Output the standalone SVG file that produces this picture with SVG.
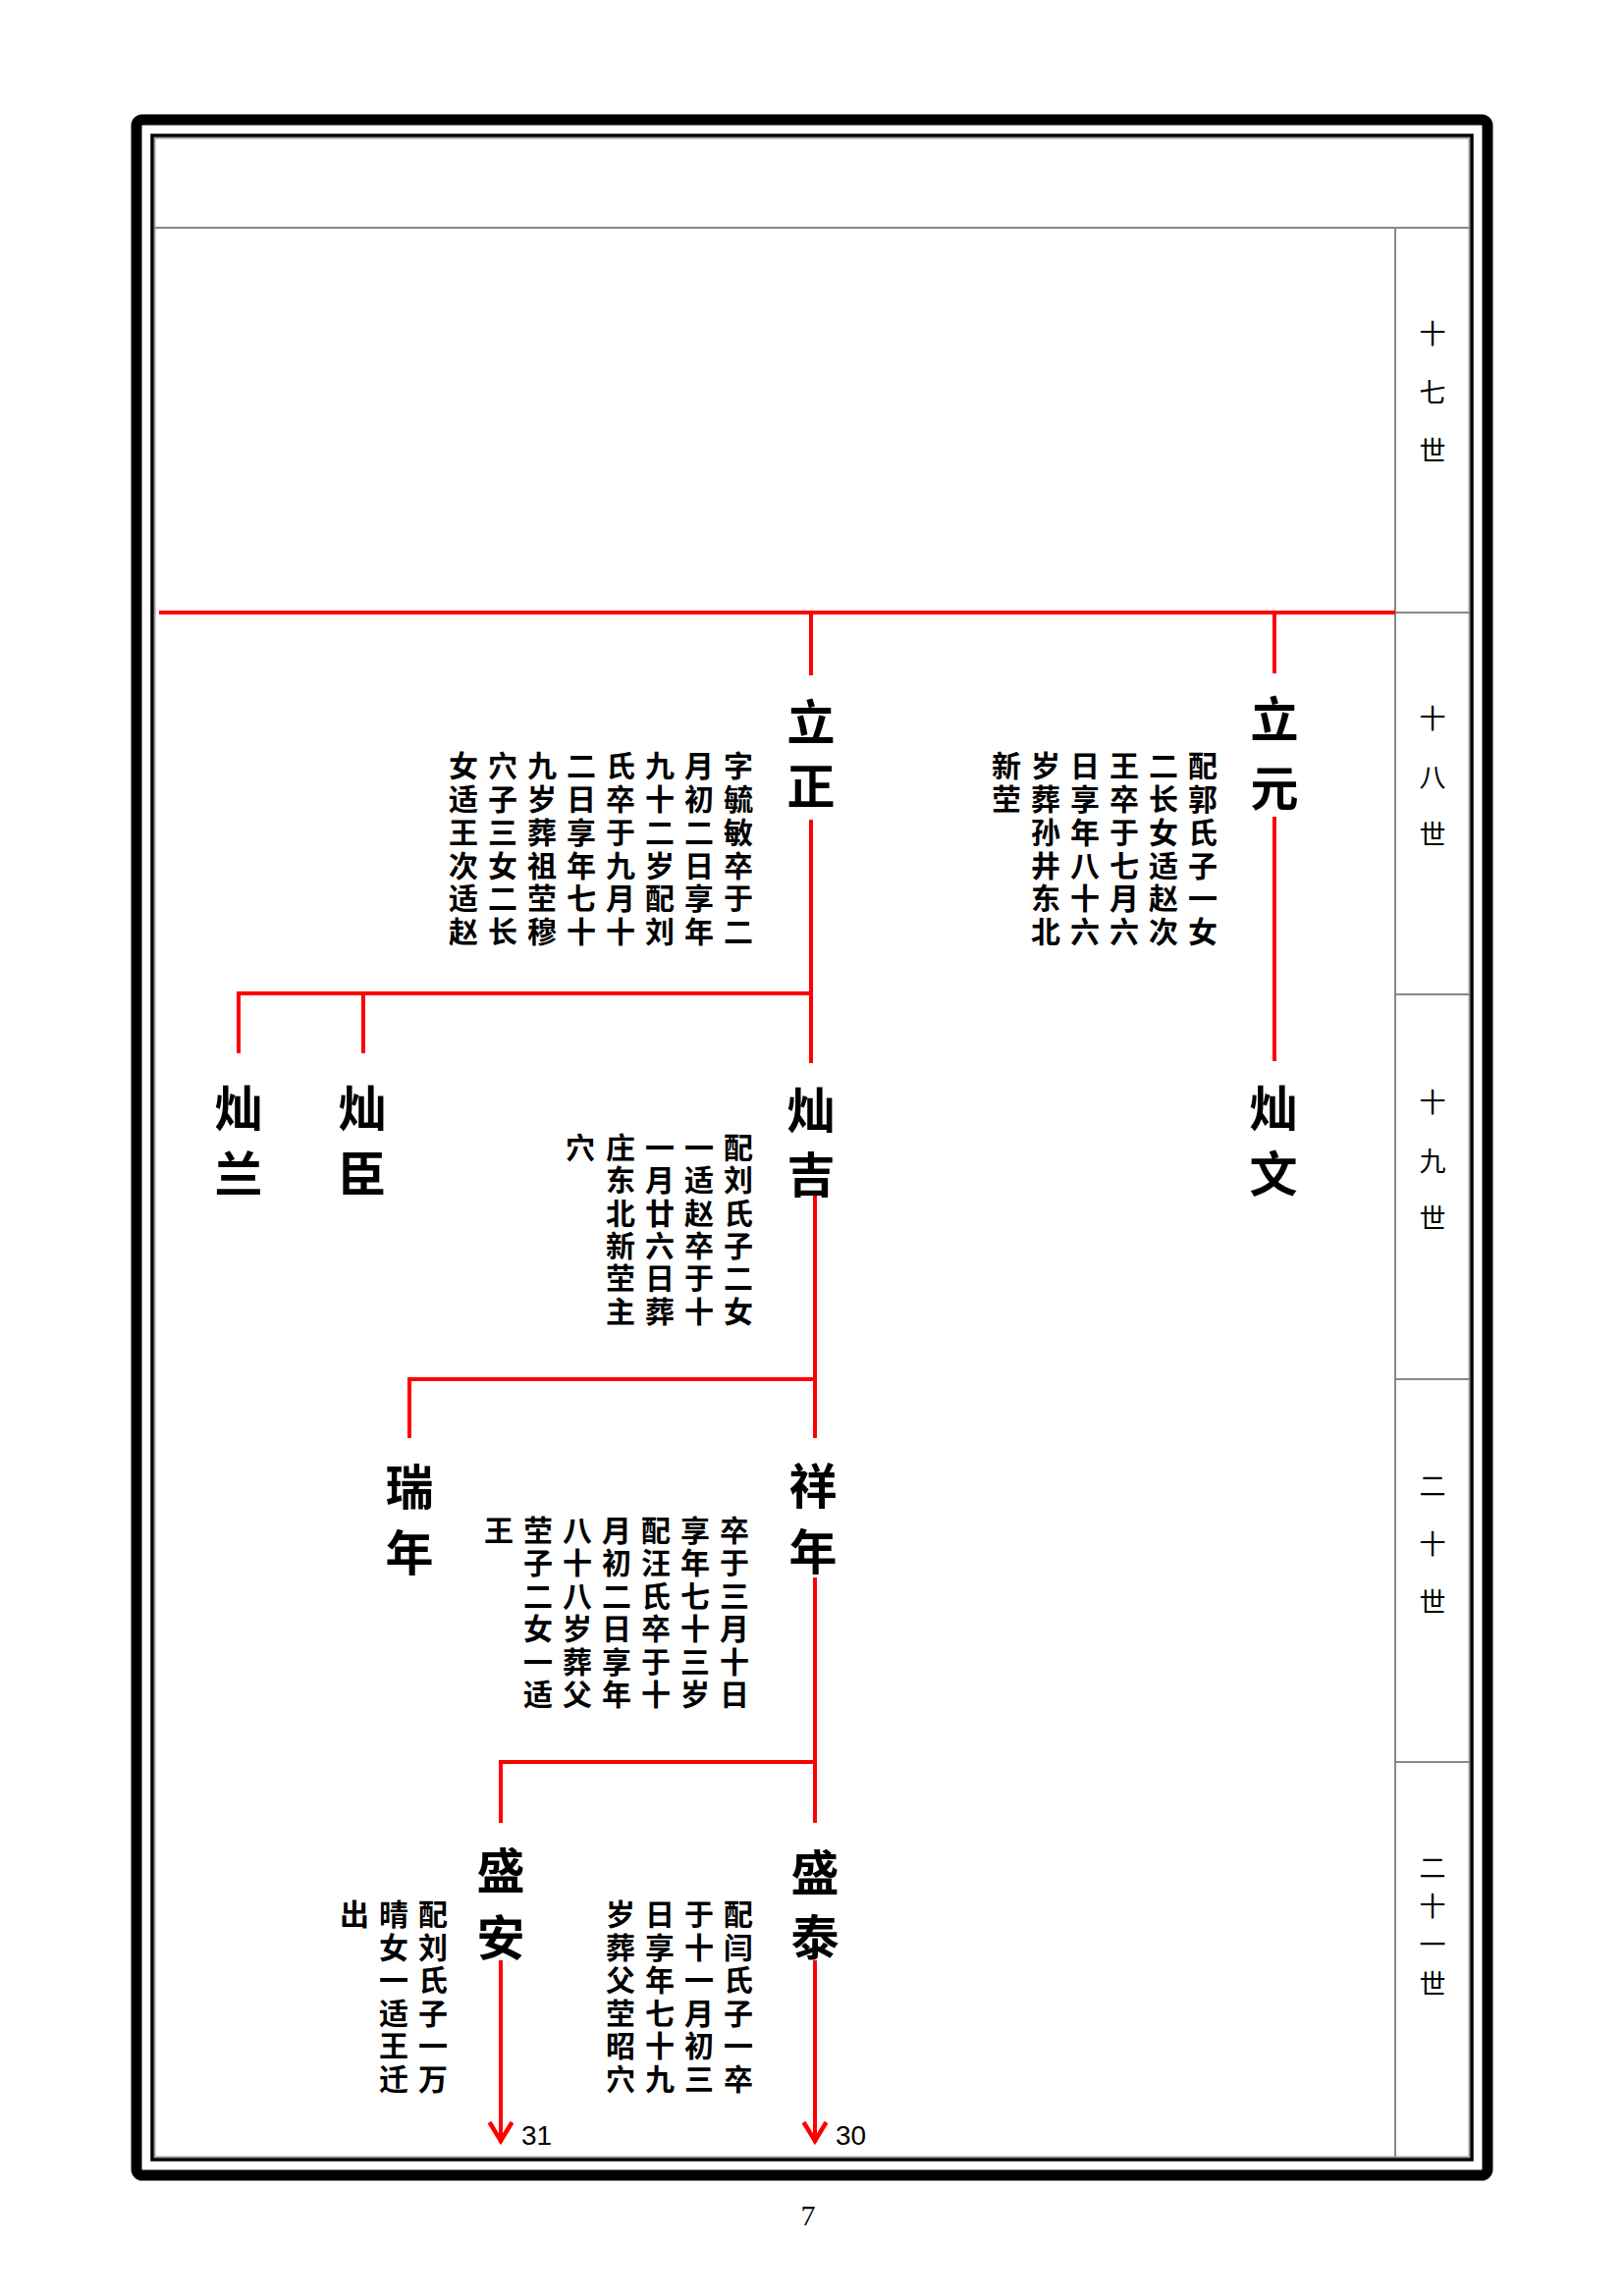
<svg xmlns="http://www.w3.org/2000/svg" width="1654" height="2339" viewBox="0 0 1654 2339">
<style>
.bg{fill:#fff}
.thick{fill:none;stroke:#000;stroke-width:11}
.thin{fill:none;stroke:#000;stroke-width:3.5}
.grid{fill:none;stroke:#888;stroke-width:2}
.conn{fill:none;stroke:#f00;stroke-width:4;stroke-linejoin:miter}
.name{font-family:"Noto Sans CJK SC","Noto Sans CJK TC",sans-serif;font-size:49px;font-weight:700;fill:#000;text-anchor:middle;dominant-baseline:central}
.note{font-family:"Noto Sans CJK SC","Noto Sans CJK TC",sans-serif;font-size:30px;font-weight:700;fill:#000;text-anchor:middle;dominant-baseline:central}
.gen{font-family:"Noto Sans CJK SC","Noto Sans CJK TC",sans-serif;font-size:27px;font-weight:400;fill:#000;text-anchor:middle;dominant-baseline:central}
.ref{font-family:"Liberation Sans",Arial,sans-serif;font-size:28px;fill:#000}
.page{font-family:"Liberation Serif","Times New Roman",serif;font-size:30px;fill:#000;text-anchor:middle}
</style>
<defs>
<marker id="arrow" markerUnits="userSpaceOnUse" viewBox="-26 -15 30 30" refX="0" refY="0" markerWidth="30" markerHeight="30" orient="auto" overflow="visible">
<path d="M-21,-11.5 L-2,0 L-21,11.5" fill="none" stroke="#f00" stroke-width="4.5" stroke-linejoin="miter"/>
</marker>
</defs>
<rect class="bg" x="0" y="0" width="1654" height="2339"/>
<g id="frame">
<rect class="thick" x="139" y="122" width="1376" height="2094" rx="6"/>
<rect class="thin" x="155" y="138" width="1344" height="2062"/>
<rect fill="none" stroke="#888" stroke-width="1.2" x="157.8" y="140.8" width="1338.4" height="2056.4"/>
<path class="grid" d="M157,232 H1497 M1421,232 V2198 M1421,624 H1497 M1421,1013 H1497 M1421,1405 H1497 M1421,1795 H1497"/>
</g>
<g id="generations">
<text class="gen" x="1459 1459 1459" y="338 398 457">十七世</text>
<text class="gen" x="1459 1459 1459" y="730 790 848">十八世</text>
<text class="gen" x="1459 1459 1459" y="1121 1181 1239">十九世</text>
<text class="gen" x="1459 1459 1459" y="1512 1571 1630">二十世</text>
<text class="gen" x="1459 1459 1459 1459" y="1901 1940 1979 2019">二十一世</text>
</g>
<g id="connectors">
<path class="conn" d="M162,624 H1421"/>
<path class="conn" d="M826,624 V688 M826,835 V1083"/>
<path class="conn" d="M1298,624 V686 M1298,832 V1081"/>
<path class="conn" d="M243,1073 V1012 H826"/>
<path class="conn" d="M370,1012 V1073"/>
<path class="conn" d="M830,1217 V1465"/>
<path class="conn" d="M417,1465 V1405 H830"/>
<path class="conn" d="M830,1607 V1857"/>
<path class="conn" d="M510,1857 V1795 H830"/>
<path class="conn" d="M510,1997 V2183" marker-end="url(#arrow)"/>
<path class="conn" d="M830,1997 V2183" marker-end="url(#arrow)"/>
</g>
<g id="node-lizheng">
<text class="name" x="826 826" y="732 797">立正</text>
<text class="note" x="752 752 752 752 752 752" y="778 812 846 880 913 947">字毓敏卒于二</text>
<text class="note" x="712 712 712 712 712 712" y="778 812 846 880 913 947">月初二日享年</text>
<text class="note" x="672 672 672 672 672 672" y="778 812 846 880 913 947">九十二岁配刘</text>
<text class="note" x="632 632 632 632 632 632" y="778 812 846 880 913 947">氏卒于九月十</text>
<text class="note" x="592 592 592 592 592 592" y="778 812 846 880 913 947">二日享年七十</text>
<text class="note" x="552 552 552 552 552 552" y="778 812 846 880 913 947">九岁葬祖茔穆</text>
<text class="note" x="512 512 512 512 512 512" y="778 812 846 880 913 947">穴子三女二长</text>
<text class="note" x="472 472 472 472 472 472" y="778 812 846 880 913 947">女适王次适赵</text>
</g>
<g id="node-liyuan">
<text class="name" x="1298 1298" y="729 799">立元</text>
<text class="note" x="1225 1225 1225 1225 1225 1225" y="778 812 846 880 913 947">配郭氏子一女</text>
<text class="note" x="1185 1185 1185 1185 1185 1185" y="778 812 846 880 913 947">二长女适赵次</text>
<text class="note" x="1145 1145 1145 1145 1145 1145" y="778 812 846 880 913 947">王卒于七月六</text>
<text class="note" x="1105 1105 1105 1105 1105 1105" y="778 812 846 880 913 947">日享年八十六</text>
<text class="note" x="1065 1065 1065 1065 1065 1065" y="778 812 846 880 913 947">岁葬孙井东北</text>
<text class="note" x="1025 1025" y="778 812">新茔</text>
</g>
<g id="node-canlan">
<text class="name" x="243 243" y="1125 1192">灿兰</text>
</g>
<g id="node-canchen">
<text class="name" x="369 369" y="1125 1192">灿臣</text>
</g>
<g id="node-canji">
<text class="name" x="826 826" y="1127 1193">灿吉</text>
<text class="note" x="752 752 752 752 752 752" y="1167 1200 1234 1267 1300 1334">配刘氏子二女</text>
<text class="note" x="712 712 712 712 712 712" y="1167 1200 1234 1267 1300 1334">一适赵卒于十</text>
<text class="note" x="672 672 672 672 672 672" y="1167 1200 1234 1267 1300 1334">一月廿六日葬</text>
<text class="note" x="632 632 632 632 632 632" y="1167 1200 1234 1267 1300 1334">庄东北新茔主</text>
<text class="note" x="591" y="1167">穴</text>
</g>
<g id="node-canwen">
<text class="name" x="1297 1297" y="1125 1192">灿文</text>
</g>
<g id="node-ruinian">
<text class="name" x="417 417" y="1511 1578">瑞年</text>
</g>
<g id="node-xiangnian">
<text class="name" x="828 828" y="1510 1577">祥年</text>
<text class="note" x="748 748 748 748 748 748" y="1557 1590 1624 1657 1691 1724">卒于三月十日</text>
<text class="note" x="708 708 708 708 708 708" y="1557 1590 1624 1657 1691 1724">享年七十三岁</text>
<text class="note" x="668 668 668 668 668 668" y="1557 1590 1624 1657 1691 1724">配汪氏卒于十</text>
<text class="note" x="628 628 628 628 628 628" y="1557 1590 1624 1657 1691 1724">月初二日享年</text>
<text class="note" x="588 588 588 588 588 588" y="1557 1590 1624 1657 1691 1724">八十八岁葬父</text>
<text class="note" x="548 548 548 548 548 548" y="1557 1590 1624 1657 1691 1724">茔子二女一适</text>
<text class="note" x="508" y="1557">王</text>
</g>
<g id="node-shengan">
<text class="name" x="510 510" y="1902 1970">盛安</text>
<text class="note" x="441 441 441 441 441 441" y="1948 1982 2015 2049 2082 2116">配刘氏子一万</text>
<text class="note" x="401 401 401 401 401 401" y="1948 1982 2015 2049 2082 2116">晴女一适王迁</text>
<text class="note" x="361" y="1948">出</text>
<text class="ref" x="531" y="2185">31</text>
</g>
<g id="node-shengtai">
<text class="name" x="830 830" y="1904 1970">盛泰</text>
<text class="note" x="752 752 752 752 752 752" y="1948 1982 2015 2049 2082 2116">配闫氏子一卒</text>
<text class="note" x="712 712 712 712 712 712" y="1948 1982 2015 2049 2082 2116">于十一月初三</text>
<text class="note" x="672 672 672 672 672 672" y="1948 1982 2015 2049 2082 2116">日享年七十九</text>
<text class="note" x="632 632 632 632 632 632" y="1948 1982 2015 2049 2082 2116">岁葬父茔昭穴</text>
<text class="ref" x="851" y="2185">30</text>
</g>
<text class="page" x="823" y="2267">7</text>
</svg>
